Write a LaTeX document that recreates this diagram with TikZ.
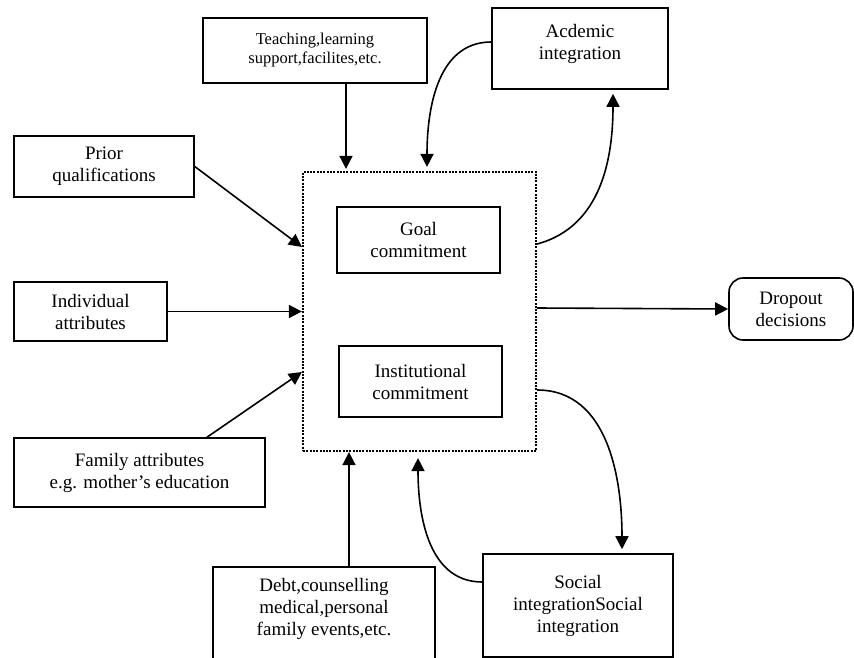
\documentclass[tikz,border=0pt]{standalone}
\usepackage{fontspec}
\setmainfont{Liberation Serif}
\usetikzlibrary{arrows.meta}

\begin{document}
\begin{tikzpicture}[
			x=1pt, y=-1pt,
			font=\fontsize{19}{22}\selectfont,
			box/.style={rectangle, draw, line width=1.6pt, align=center, inner sep=0pt},
			roundbox/.style={box, rounded corners=14pt},
			dotbox/.style={rectangle, draw, line width=2.2pt, dash pattern=on 2pt off 1.3pt},
			arr/.style={line width=1.6pt, -{Triangle[length=13pt,width=13pt]}}
		]
		\useasboundingbox (0,0) rectangle (854,658);

		\node[dotbox, minimum width=233pt, minimum height=279pt] (frame) at (419.5,311.5) {};
		\node[box, minimum width=163pt, minimum height=66pt] (goal) at (418.5,240) {Goal\\commitment};
		\node[box, minimum width=163pt, minimum height=71pt] (inst) at (420.5,381.5) {Institutional\\commitment};

		\node[box, minimum width=224pt, minimum height=65pt, font=\fontsize{16.5}{19}\selectfont] (teach) at (315,50.5) {Teaching,learning\\support,facilites,etc.};
		\node[box, minimum width=176pt, minimum height=81pt] (acad) at (580,48.5) {Acdemic\\integration\\[-8pt]};
		\node[box, minimum width=180pt, minimum height=61pt] (prior) at (104,166.5) {Prior\\qualifications};
		\node[box, minimum width=153pt, minimum height=59pt] (indiv) at (90.5,311.5) {Individual\\attributes};
		\node[box, minimum width=251pt, minimum height=69pt] (family) at (139.5,472.5) {Family attributes\\e.g. mother\char"0027 s education};
		\node[box, minimum width=222pt, anchor=north, inner ysep=12pt, text depth=70pt] (debt) at (324,566) {Debt,counselling\\medical,personal\\family events,etc.};
		\node[box, minimum width=190pt, minimum height=103pt] (social) at (578,605.5) {Social\\integrationSocial\\integration};
		\node[roundbox, minimum width=124pt, minimum height=62pt] (drop) at (791,309) {Dropout\\decisions};

		% inputs
		\draw[arr, shorten >=2pt] ([xshift=31pt]teach.south) -- ([xshift=31pt]teach.south |- frame.north);
		\draw[arr] (prior.east) -- ([yshift=64.5pt]frame.west);
		\draw[arr] (indiv.east) -- (indiv.east -| frame.west);
		\draw[arr] ([xshift=67.5pt]family.north) -- ([yshift=-60.5pt]frame.west);
		\draw[arr] ([xshift=25pt]debt.north) -- ([xshift=25pt]debt.north |- frame.south);
		\draw[arr] ([yshift=3.5pt]frame.east) -- (drop.west);

		% loops
		\draw[arr, shorten >=4pt] ([yshift=6.5pt]acad.west) to[out=180, in=90] ([xshift=7.5pt]frame.north);
		\draw[arr, shorten >=4pt] ([yshift=67.5pt]frame.east) to[out=15, in=-90] ([xshift=33pt]acad.south);
		\draw[arr, shorten >=4pt] ([yshift=-78.5pt]frame.east) to[out=0, in=90] ([xshift=44pt]social.north);
		\draw[arr, shorten >=6pt] ([yshift=23.5pt]social.west) to[out=180, in=-90] ([xshift=-1.5pt]frame.south);
	\end{tikzpicture}
\end{document}
